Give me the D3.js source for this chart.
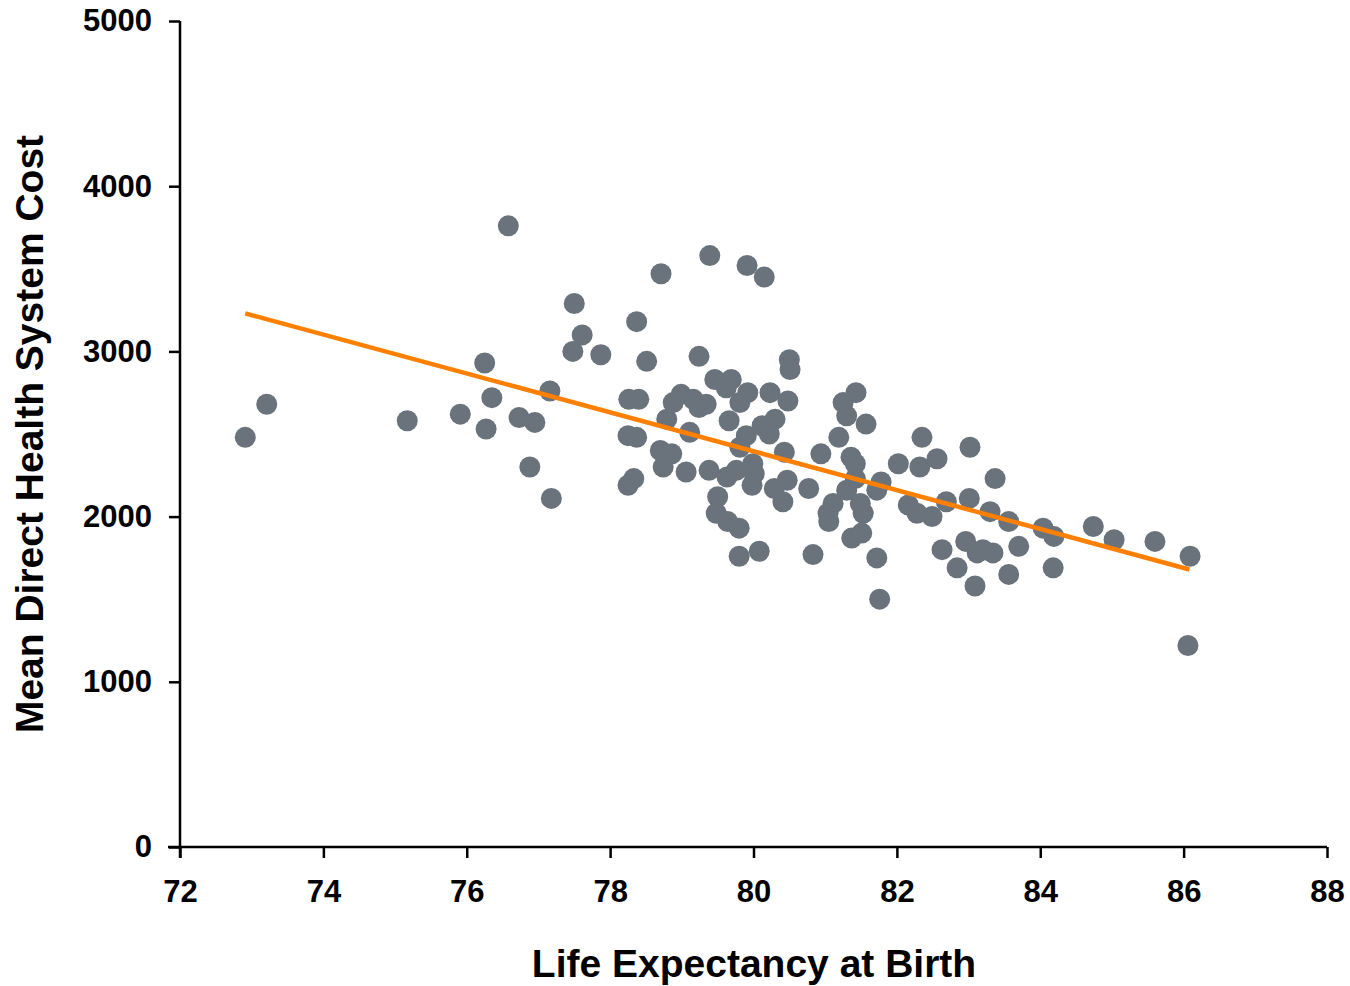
<!DOCTYPE html>
<html>
<head>
<meta charset="utf-8">
<script src="https://cdn.jsdelivr.net/npm/d3@7"></script>
<style>
  body { margin: 0; background: #fff; }
  text { font-family: Arial, "Liberation Sans", sans-serif; font-weight: bold; }
</style>
</head>
<body>
<svg id="chart" width="1350" height="986"></svg>
<script>
// life expectancy at birth (x) and mean direct health system cost (y)
var lifeExp = [72.91, 73.21, 75.17, 75.91, 76.25, 76.27, 76.35, 76.58, 76.73, 76.88,
  76.95, 77.16, 77.18, 77.48, 77.50, 77.61, 77.87, 78.25, 78.26, 78.25,
  78.33, 78.37, 78.37, 78.40, 78.51, 78.70, 78.71, 78.74, 78.79, 78.86,
  78.88, 78.99, 79.06, 79.11, 79.16, 79.24, 79.24, 79.34, 79.38, 79.39,
  79.46, 79.50, 79.48, 79.62, 79.64, 79.66, 79.69, 79.63, 79.76, 79.80,
  79.80, 79.81, 79.81, 79.91, 79.90, 79.92, 79.98, 79.99, 80.01, 80.08,
  80.15, 80.12, 80.22, 80.23, 80.30, 80.29, 80.43, 80.47, 80.41, 80.48,
  80.50, 80.51, 80.77, 80.83, 80.94, 81.05, 81.04, 81.11, 81.19, 81.25,
  81.30, 81.36, 81.42, 81.42, 81.30, 81.37, 81.43, 81.49, 81.53, 81.51,
  81.57, 81.72, 81.72, 81.76, 81.78, 82.02, 82.16, 82.28, 82.32, 82.35,
  82.49, 82.56, 82.63, 82.69, 82.84, 82.96, 83.02, 83.01, 83.12, 83.09,
  83.20, 83.30, 83.34, 83.37, 83.56, 83.56, 83.70, 84.04, 84.18, 84.19,
  84.74, 85.03, 85.60, 86.09, 86.06];
var cost = [2480, 2680, 2580, 2620, 2930, 2530, 2720, 3760, 2600, 2300,
  2570, 2760, 2110, 3000, 3290, 3100, 2980, 2490, 2710, 2190,
  2230, 2480, 3180, 2710, 2940, 2400, 3470, 2300, 2590, 2380,
  2690, 2740, 2270, 2510, 2710, 2970, 2660, 2680, 2280, 3580,
  2830, 2120, 2020, 2780, 1970, 2580, 2830, 2240, 2280, 1930,
  1760, 2420, 2690, 3520, 2490, 2750, 2190, 2320, 2260, 1790,
  3450, 2550, 2500, 2750, 2590, 2170, 2390, 2220, 2090, 2700,
  2950, 2890, 2170, 1770, 2380, 1970, 2020, 2080, 2480, 2690,
  2610, 2360, 2320, 2230, 2160, 1870, 2750, 2080, 2020, 1900,
  2560, 1750, 2160, 1500, 2210, 2320, 2070, 2020, 2300, 2480,
  2000, 2350, 1800, 2090, 1690, 1850, 2420, 2110, 1780, 1580,
  1800, 2030, 1780, 2230, 1650, 1970, 1820, 1930, 1690, 1880,
  1940, 1860, 1850, 1760, 1220];

// linear trend line end points
var trendX = [72.91, 86.08];
var trendY = [3230, 1680];

var xTicks = [72, 74, 76, 78, 80, 82, 84, 86, 88];
var yTicks = [0, 1000, 2000, 3000, 4000, 5000];

var svg = d3.select("svg#chart");

var x = d3.scaleLinear().domain([72, 88]).range([180, 1327]);
var y = d3.scaleLinear().domain([0, 5000]).range([847, 21]);

var xAxis = svg.append("g")
   .attr("transform", "translate(0," + y(0) + ")")
   .call(d3.axisBottom(x).tickValues(xTicks).tickFormat(d3.format("d"))
           .tickSize(11).tickSizeOuter(0).tickPadding(15));
xAxis.select(".domain").remove();
xAxis.selectAll("line").attr("stroke", "#000").attr("stroke-width", 2.5);
xAxis.selectAll("text").style("font-size", "31px").attr("fill", "#000").attr("dy", "0.95em");

var yAxis = svg.append("g")
   .attr("transform", "translate(" + x(72) + ",0)")
   .call(d3.axisLeft(y).tickValues(yTicks).tickFormat(d3.format("d"))
           .tickSize(11).tickSizeOuter(0).tickPadding(17));
yAxis.select(".domain").remove();
yAxis.selectAll("line").attr("stroke", "#000").attr("stroke-width", 2.5);
yAxis.selectAll("text").style("font-size", "31px").attr("fill", "#000");

// axis lines, running a little past the origin like the original
svg.append("line")
   .attr("x1", x(72) - 12).attr("x2", x(88))
   .attr("y1", y(0)).attr("y2", y(0))
   .attr("stroke", "#000").attr("stroke-width", 2.5);
svg.append("line")
   .attr("x1", x(72)).attr("x2", x(72))
   .attr("y1", y(5000)).attr("y2", y(0) + 11)
   .attr("stroke", "#000").attr("stroke-width", 2.5);

svg.append("g").selectAll("circle")
   .data(lifeExp)
   .enter().append("circle")
   .attr("cx", function(d) { return x(d); })
   .attr("cy", function(d, i) { return y(cost[i]); })
   .attr("r", 10.5)
   .attr("fill", "#6a737c");

svg.append("line")
   .attr("x1", x(trendX[0])).attr("y1", y(trendY[0]))
   .attr("x2", x(trendX[1])).attr("y2", y(trendY[1]))
   .attr("stroke", "#ff8000")
   .attr("stroke-width", 4.5);

svg.append("text")
   .text("Life Expectancy at Birth")
   .attr("x", 754)
   .attr("y", 977)
   .attr("text-anchor", "middle")
   .style("font-size", "39px");

svg.append("text")
   .text("Mean Direct Health System Cost")
   .attr("transform", "translate(43,434) rotate(-90)")
   .attr("text-anchor", "middle")
   .style("font-size", "39px");
</script>
</body>
</html>
